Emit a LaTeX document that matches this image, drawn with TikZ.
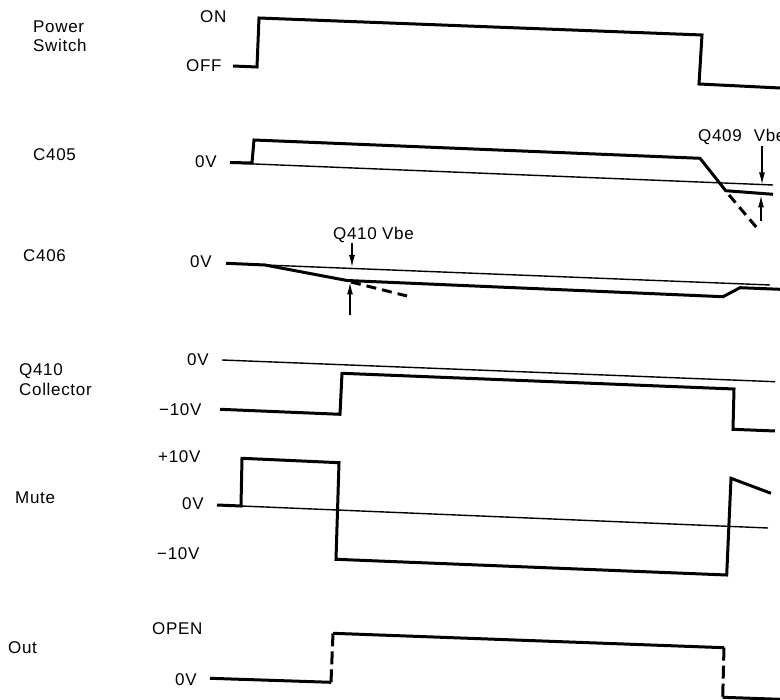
\documentclass[tikz,border=0pt]{standalone}
\usepackage{fontspec}
\setmainfont{Liberation Sans}[LetterSpace=4]
\usetikzlibrary{arrows.meta}
\begin{document}
\begin{tikzpicture}[x=1pt,y=-1pt,
  lbl/.style={anchor=base west,inner sep=0pt,font=\fontsize{17}{20}\selectfont},
  thickw/.style={line width=3pt,line join=miter,line cap=butt},
  thinw/.style={line width=1.4pt},
  dashw/.style={line width=3pt,dash pattern=on 10pt off 6pt},
  vdash/.style={line width=3pt,dash pattern=on 13pt off 5pt},
  arrw/.style={line width=1.3pt,-{Latex[length=12pt,width=6pt]}}]
\useasboundingbox (0,0) rectangle (780,700);
% ---------- Power switch ----------
\node[lbl] (psA) at (33,33) {Power};
\node[lbl] (psB) at (33,52) {Switch};
\node[lbl] (on) at (200,23) {ON};
\node[lbl] (off) at (186,72) {OFF};
\draw[thickw] (233,66) -- (257,67) -- (259,18) -- (702,35) -- (699,84) -- (780,88);
% ---------- C405 ----------
\node[lbl] (c405) at (33,161) {C405};
\node[lbl] (c405z) at (195,168) {0V};
\node[lbl] (q409) at (698,142) {Q409\hspace{12pt}Vbe};
\draw[thinw] (230,163) -- (773,185);
\draw[thickw] (230,162.5) -- (252,163) -- (254,140) -- (700,158.3) -- (725.7,190.7) -- (773,194.3);
\draw[dashw] (729,195) -- (757,228);
\coordinate (a1s) at (762,146);
\coordinate (a1e) at (762,184.5);
\coordinate (a2s) at (761,221);
\coordinate (a2e) at (761,195.5);
\draw[arrw] (a1s) -- (a1e);
\draw[arrw] (a2s) -- (a2e);
% ---------- C406 ----------
\node[lbl] (c406) at (23,262) {C406};
\node[lbl] (c406z) at (190,268) {0V};
\node[lbl] (q410v) at (333,240) {Q410 Vbe};
\draw[thinw] (265,265) -- (770,285);
\draw[thickw] (226,263.3) -- (265,265) -- (347,280.5) -- (723,296.7) -- (740,287.7) -- (780,289.3);
\draw[dashw] (351,282) -- (407,296);
\coordinate (b1s) at (352,243);
\coordinate (b1e) at (352,267);
\coordinate (b2s) at (350,315);
\coordinate (b2e) at (350,282.5);
\draw[arrw] (b1s) -- (b1e);
\draw[arrw] (b2s) -- (b2e);
% ---------- Q410 collector ----------
\node[lbl] (q410a) at (19,376) {Q410};
\node[lbl] (q410b) at (19,396) {Collector};
\node[lbl] (qz) at (187,366) {0V};
\node[lbl] (qm) at (159,416) {−10V};
\draw[thinw] (222,360) -- (775,381.7);
\draw[thickw] (220,409.3) -- (340,414.3) -- (342,373.3) -- (734,389) -- (733,429.3) -- (775,431);
% ---------- Mute ----------
\node[lbl] (mute) at (15,504) {Mute};
\node[lbl] (mp) at (158,463) {+10V};
\node[lbl] (mz) at (182,510) {0V};
\node[lbl] (mm) at (157,560) {−10V};
\draw[thinw] (241,506) -- (768,528);
\draw[thickw] (217,505) -- (241,506) -- (242,458.3) -- (339,462.7) -- (336,559.3) -- (726.7,575) -- (731,478.3) -- (771,493.3);
% ---------- Out ----------
\node[lbl] (out) at (8,653) {Out};
\node[lbl] (open) at (152,634) {OPEN};
\node[lbl] (oz) at (175,685) {0V};
\draw[thickw] (210,678.3) -- (331,682.3);
\draw[vdash] (331,682.3) -- (333,633.3);
\draw[thickw] (333,633.3) -- (724,647.7);
\draw[vdash] (724,647.7) -- (722.7,697.3);
\draw[thickw] (722.7,697.3) -- (780,699.3);
\end{tikzpicture}
\end{document}
